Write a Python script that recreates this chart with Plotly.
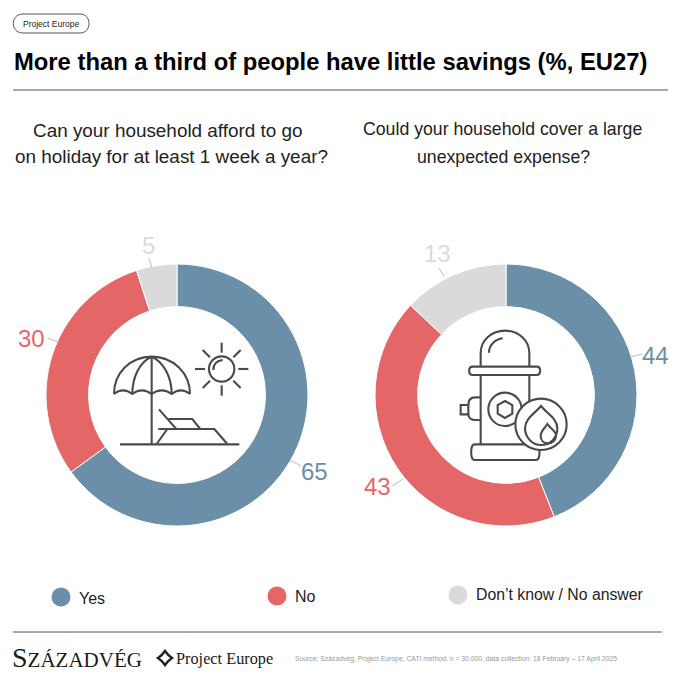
import re
import plotly.graph_objects as go

categories = ["Yes", "No", "Don’t know / No answer"]
holiday = [65, 30, 5]
expense = [44, 43, 13]
colors = ["#6b8fa8", "#e56666", "#dadada"]

title = "More than a third of people have little savings (%, EU27)"
source = "Source: Századvég, Project Europe, CATI method, n = 30,000, data collection: 18 February – 17 April 2025"
FONT = "Liberation Sans"
SERIF = "Liberation Serif"
ICON = "#4a4a4a"

W = 680


# icon paths are noted in crop units (3x), this moves them to page pixels
def crop(ox, oy, path):
    nums = iter(range(100000))
    def fix(m):
        i = next(nums)
        v = float(m.group(0)) / 3
        return str(round(v + (ox if i % 2 == 0 else oy), 2))
    out = []
    for part in re.split(r"(?=[MLCQZ])", path):
        out.append(re.sub(r"-?\d+\.?\d*", fix, part))
    return " ".join(out)


fig = go.Figure()


def donut(values, cx):
    r = 131
    cy = 395
    fig.add_trace(go.Pie(
        labels=categories, values=values, hole=0.675, sort=False, direction="clockwise",
        rotation=0, textinfo="none", hoverinfo="label+value", showlegend=False,
        marker=dict(colors=colors, line=dict(color="white", width=1)),
        domain=dict(x=[(cx - r) / W, (cx + r) / W], y=[(W - cy - r) / W, (W - cy + r) / W]),
    ))


donut(holiday, 177)
donut(expense, 506)

shapes = []


def line(path, width=2.1, color=ICON, fill=None):
    shapes.append(dict(type="path", path=path, xref="x", yref="y", layer="above",
                       line=dict(color=color, width=width),
                       fillcolor=fill if fill else "rgba(0,0,0,0)"))


def circle(cx, cy, r, width=2.1, color=ICON, fill=None):
    shapes.append(dict(type="circle", xref="x", yref="y", layer="above",
                       x0=cx - r, x1=cx + r, y0=cy - r, y1=cy + r,
                       line=dict(color=color, width=width),
                       fillcolor=fill if fill else "rgba(0,0,0,0)"))


# rules
line("M13 90 L668 90", 1, "#555555")
line("M13 632 L662 632", 1, "#555555")
# tag pill
line("M23 14 L80 14 C92 14 92 33 80 33 L23 33 C10 33 10 14 23 14 Z", 1, "#555555")

# leader lines of the value labels
for p in ["M290 460 L301 466", "M48 338 L60 343", "M149 258 L152 268",
          "M630 357 L642 354", "M392 486 L403 479", "M439 268 L444 276"]:
    line(p, 0.8, "#aaaaaa")

# beach icon
B = (100, 330)
for p in ["M42 192 C42 130 90 80 155 80 C220 80 270 130 270 192",
          "M42 192 Q68 170 97 192 Q125 170 155 192 Q185 170 215 192 Q243 170 270 192",
          "M97 192 C97 140 120 95 155 80", "M215 192 C215 140 190 95 155 80",
          "M155 80 L155 342", "M60 343 L418 343",
          "M177 238 L228 296", "M205 267 L277 267 L300 296",
          "M175 297 L343 297 L382 342", "M202 297 L170 342",
          "M340 120 C340 100 350 92 368 90",
          "M365 38 L365 68", "M365 166 L365 197", "M285 117 L315 117", "M415 117 L445 117",
          "M308 60 L330 82", "M422 60 L400 82", "M308 174 L330 152", "M422 174 L400 152"]:
    line(crop(B[0], B[1], p))
circle(100 + 365 / 3, 330 + 117 / 3, 38 / 3)

# hydrant icon
H = (440, 320)
for p in ["M122 140 L122 100 C122 60 155 32 195 32 C235 32 268 60 268 100 L268 140",
          "M147 98 C147 75 165 58 188 55",
          "M98 140 L290 140 C304 140 304 165 290 165 L98 165 C84 165 84 140 98 140 Z",
          "M122 165 L122 373", "M268 165 L268 245",
          "M104 373 L288 373 C302 373 302 420 288 420 L104 420 C90 420 90 373 104 373 Z",
          "M122 232 L105 232 C92 232 85 240 85 255", "M85 283 C85 295 95 300 105 300 L122 300",
          "M62 255 L85 255 L85 283 L62 283 Z",
          "M195 243 L217 255 L217 281 L195 294 L173 281 L173 255 Z"]:
    line(crop(H[0], H[1], p))
circle(440 + 195 / 3, 320 + 268 / 3, 50 / 3)
circle(440 + 303 / 3, 320 + 313 / 3, 77 / 3, fill="white")
for p in ["M303 258 C285 280 255 295 255 325 C255 355 280 375 303 375 C330 375 352 355 352 325 C352 295 320 280 303 258 Z",
          "M322 312 C315 325 302 332 302 348 C302 362 312 370 325 370 C338 370 348 360 348 346 C348 332 330 325 322 312 Z"]:
    line(crop(H[0], H[1], p))

# legend dots
for (x, y), c in zip([(61, 597), (277, 596), (458, 595)], colors):
    circle(x, y, 9.5, 0, c, c)

# logo star
line("M165 651 C167 654 169 656 172 658 C169 660 167 662 165 665 C163 662 161 660 158 658 C161 656 163 654 165 651 Z", 2.4, "#222222")

ann = []


def text(x, y, s, size, color="#111111", anchor="left", font=FONT, bold=False):
    if bold:
        s = "<b>" + s + "</b>"
    ann.append(dict(x=x, y=y, xref="x", yref="y", text=s, showarrow=False, xanchor=anchor,
                    yanchor="middle", align=anchor, font=dict(family=font, size=size, color=color)))


text(51, 23.5, "Project Europe", 8.5, "#222222", "center")
text(12, 61, title, 23.8, "#000000", bold=True)
text(168, 130, "Can your household afford to go", 18.9, "#222222", "center")
text(171, 156, "on holiday for at least 1 week a year?", 18.9, "#222222", "center")
text(502, 129, "Could your household cover a large", 17.7, "#222222", "center")
text(503, 157, "unexpected expense?", 17.7, "#222222", "center")

# value labels
for (x, y), v, c in zip([(314, 471), (31, 338), (148, 245)], holiday, colors):
    text(x, y, str(v), 24, c, "center")
for (x, y), v, c in zip([(655, 355), (377, 486), (437, 253)], expense, colors):
    text(x, y, str(v), 24, c, "center")

# legend
text(77, 598, categories[0], 16, "#222222")
text(293, 596, categories[1], 16, "#222222")
text(474, 594, categories[2], 15.8, "#222222")

# footer
text(10, 657, "S<span style='font-size:21px'>ZÁZADVÉG</span>", 28, "#1a1a1a", font=SERIF)
text(174, 658, "Project Europe", 16.3, "#1a1a1a", font=SERIF)
text(293, 659, source, 6.8, "#999999")

fig.update_layout(
    width=W, height=W, margin=dict(l=0, r=0, t=0, b=0),
    paper_bgcolor="white", plot_bgcolor="white",
    xaxis=dict(range=[0, W], visible=False, fixedrange=True),
    yaxis=dict(range=[W, 0], visible=False, fixedrange=True),
    shapes=shapes, annotations=ann, showlegend=False,
)
fig.write_html("out.html", config=dict(displayModeBar=False),
               post_script="document.body.style.margin='0';document.body.style.overflow='hidden';")
